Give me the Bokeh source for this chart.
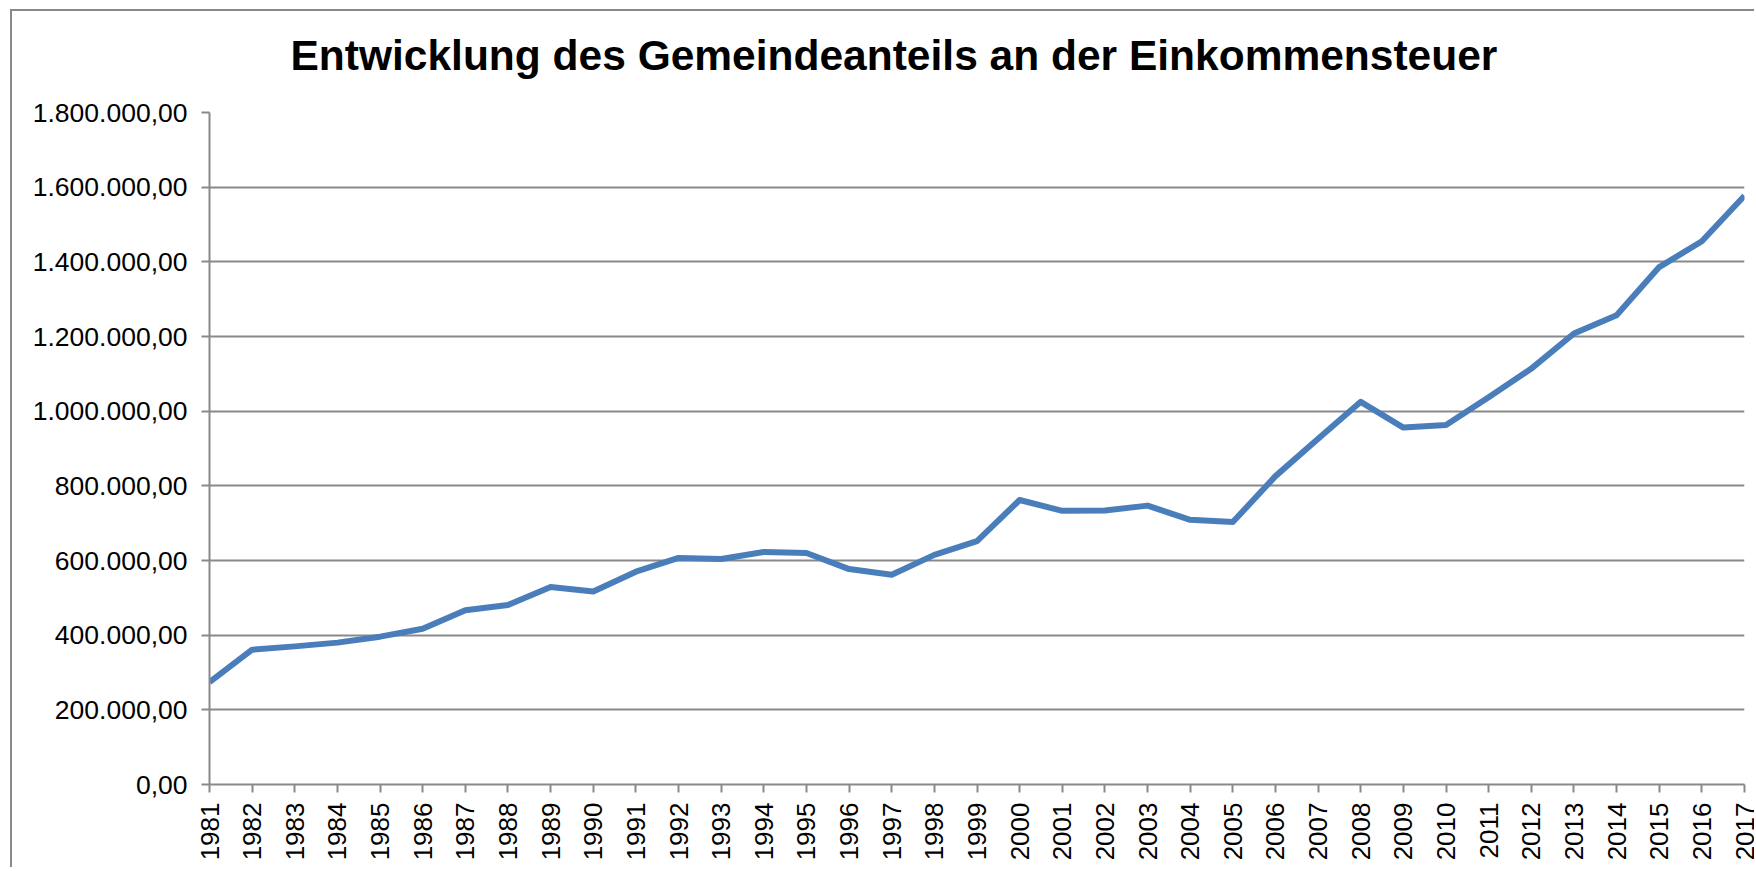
import math
from bokeh.plotting import figure
from bokeh.models import FixedTicker, Range1d, ColumnDataSource
from bokeh.embed import file_html
from bokeh.resources import INLINE

# ---- data ----
years = list(range(1981, 2018))
values = [274000, 361000, 370000, 380000, 396000, 417000, 467000, 481000,
          529000, 517000, 570000, 607000, 604000, 623000, 620000, 577000,
          562000, 615000, 652000, 762000, 733000, 734000, 747000, 709000,
          703000, 826000, 926000, 1025000, 956000, 963000, 1037000, 1114000,
          1208000, 1257000, 1386000, 1455000, 1577000]
y_ticks = [0, 200000, 400000, 600000, 800000, 1000000, 1200000, 1400000, 1600000, 1800000]
y_tick_labels = ["0,00", "200.000,00", "400.000,00", "600.000,00", "800.000,00",
                 "1.000.000,00", "1.200.000,00", "1.400.000,00", "1.600.000,00",
                 "1.800.000,00"]
x_tick_labels = [str(y) for y in years]
title_text = "Entwicklung des Gemeindeanteils an der Einkommensteuer"

FONT = "Liberation Sans"
GRID = "#898989"

src = ColumnDataSource(dict(year=years, value=values))

p = figure(width=1744, height=858, output_backend="svg", toolbar_location=None,
           x_range=Range1d(years[0], years[-1]), y_range=Range1d(y_ticks[0], y_ticks[-1]),
           min_border_left=197, min_border_right=12, min_border_top=101, min_border_bottom=85,
           background_fill_color="white", border_fill_color="white")

p.styles = {"border-left": "2px solid " + GRID, "border-top": "2px solid " + GRID,
            "margin-left": "10px", "margin-top": "9px"}

p.line(x="year", y="value", source=src, line_color="#4a7ebb", line_width=6,
       line_join="round")

# title
p.title.text = title_text
p.title.text_font = FONT
p.title.text_font_style = "bold"
p.title.text_font_size = "42.5px"
p.title.text_color = "black"
p.title.align = "left"
p.title.offset = 81
p.title.standoff = 0
p.title.padding = dict(left=0, right=0, top=0, bottom=34)

# x axis
p.xaxis.ticker = FixedTicker(ticks=years)
p.xaxis.major_label_overrides = {y: s for y, s in zip(years, x_tick_labels)}
p.xaxis.major_label_orientation = math.pi / 2
p.xaxis.major_label_text_font = FONT
p.xaxis.major_label_text_font_size = "26px"
p.xaxis.major_label_text_color = "black"
p.xaxis.major_label_standoff = 10
p.xaxis.axis_line_color = GRID
p.xaxis.axis_line_width = 2
p.xaxis.major_tick_line_color = GRID
p.xaxis.major_tick_line_width = 2
p.xaxis.major_tick_in = 0
p.xaxis.major_tick_out = 8
p.xaxis.minor_tick_line_color = None

# y axis
p.yaxis.ticker = FixedTicker(ticks=y_ticks)
p.yaxis.major_label_overrides = {t: s for t, s in zip(y_ticks, y_tick_labels)}
p.yaxis.major_label_text_font = FONT
p.yaxis.major_label_text_font_size = "26.5px"
p.yaxis.major_label_text_color = "black"
p.yaxis.major_label_standoff = 14
p.yaxis.axis_line_color = GRID
p.yaxis.axis_line_width = 2
p.yaxis.major_tick_line_color = GRID
p.yaxis.major_tick_line_width = 2
p.yaxis.major_tick_in = 0
p.yaxis.major_tick_out = 8
p.yaxis.minor_tick_line_color = None

# grid
p.xgrid.visible = False
p.ygrid.grid_line_color = GRID
p.ygrid.grid_line_width = 2
p.outline_line_color = None

open("out.html", "w").write(file_html(p, INLINE))
